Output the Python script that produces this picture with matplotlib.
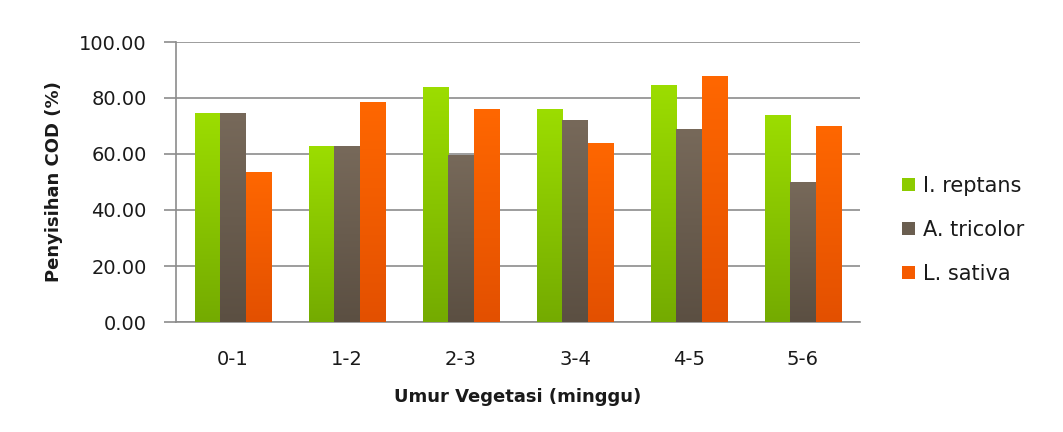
import numpy as np
import matplotlib
matplotlib.use('Agg')
import matplotlib.pyplot as plt
from matplotlib.colors import LinearSegmentedColormap

# data
categories = ['0-1', '1-2', '2-3', '3-4', '4-5', '5-6']
i_reptans = [74.6, 62.7, 83.8, 76.1, 84.5, 74.0]
a_tricolor = [74.6, 62.7, 59.8, 72.2, 68.9, 50.0]
l_sativa = [53.4, 78.6, 76.1, 64.1, 87.7, 70.1]
series_names = ['I. reptans', 'A. tricolor', 'L. sativa']
y_ticks = [0, 20, 40, 60, 80, 100]

# (top, bottom) gradient colours, Excel style
grads = [('#9CDD00', '#74AB00'), ('#77695A', '#5B4F42'), ('#FF6700', '#E35000')]
legend_colors = ['#8CCB00', '#6A5E50', '#F55B00']
text_color = '#1a1a1a'
grid_color = '#8c8c8c'

plt.rcParams['font.family'] = ['DejaVu Sans']

fig = plt.figure(figsize=(10.63, 4.32), dpi=100)
ax = fig.add_axes([176/1063, 1 - 322/432, (860-176)/1063, (322-42)/432])

x = np.arange(len(categories))
bar_width = 0.22
grad = np.linspace(1, 0, 256).reshape(-1, 1)
for i, (vals, name) in enumerate(zip([i_reptans, a_tricolor, l_sativa], series_names)):
    bars = ax.bar(x + (i - 1) * bar_width, vals, bar_width, color=legend_colors[i],
                  label=name, zorder=3)
    cmap = LinearSegmentedColormap.from_list('g%d' % i, [grads[i][1], grads[i][0]])
    for b in bars:
        x0, y0 = b.get_x(), b.get_y()
        im = ax.imshow(grad, cmap=cmap, aspect='auto', zorder=4,
                       extent=(x0, x0 + b.get_width(), y0, y0 + b.get_height()))
        im.set_clip_path(b)

ax.set_xlim(-0.5, len(categories) - 0.5)
ax.set_ylim(0, 100)
ax.set_yticks(y_ticks)
ax.set_yticklabels(['%.2f' % v for v in y_ticks], fontsize=14, color=text_color)
ax.set_xticks(x)
ax.set_xticklabels(categories, fontsize=14, color=text_color)
ax.tick_params(axis='x', length=0, pad=20)
ax.tick_params(axis='y', length=9, width=1.2, color=grid_color, pad=12)

ax.grid(axis='y', color=grid_color, linewidth=1.2, zorder=0)
for s in ['top', 'right']:
    ax.spines[s].set_visible(False)
for s in ['left', 'bottom']:
    ax.spines[s].set_color(grid_color)
    ax.spines[s].set_linewidth(1.2)

ax.set_ylabel('Penyisihan COD (%)', fontsize=13, fontweight='bold', color=text_color)
ax.set_xlabel('Umur Vegetasi (minggu)', fontsize=13, fontweight='bold', color=text_color)
ax.yaxis.set_label_coords(-0.165, 0.5)
ax.xaxis.set_label_coords(0.5, -0.235)

ax.legend(loc='center left', bbox_to_anchor=(902/1063, 1 - 230/432),
          bbox_transform=fig.transFigure, frameon=False, fontsize=15,
          borderpad=0, borderaxespad=0,
          handlelength=0.6, handleheight=0.6, handletextpad=0.4, labelspacing=1.15,
          labelcolor=text_color)

fig.savefig('out.png', dpi=100)
